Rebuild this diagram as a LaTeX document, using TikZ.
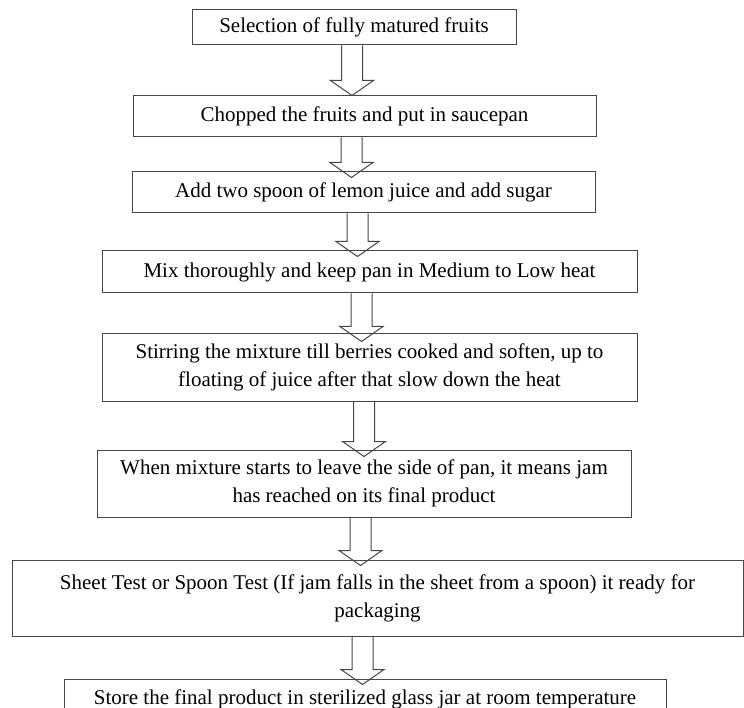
\documentclass[tikz,border=0pt]{standalone}
\usepackage{fontspec}
\setmainfont{Liberation Serif}
\usetikzlibrary{calc}

\definecolor{edgegray}{RGB}{70,70,70}

\tikzset{
  stepbox/.style={draw=edgegray, line width=1pt, fill=white, inner sep=0pt,
    align=center, font=\fontsize{21pt}{28pt}\selectfont, text=black},
  flowarrow/.style={draw=edgegray, line width=1pt, line join=miter}
}

% Hollow block arrow from the bottom of #1 into the top of #2.
% #3: x of the arrow axis (pt), #4: how far the tip reaches into #2 (pt)
\newcommand{\flowarrow}[4]{%
  \draw[flowarrow] let \p1=(#1.south), \p2=(#2.north) in
    (#3pt-10.5pt,\y1) -- (#3pt-10.5pt,\y2-#4pt+15pt) -- (#3pt-21.5pt,\y2-#4pt+15pt)
    -- (#3pt,\y2-#4pt) -- (#3pt+21.5pt,\y2-#4pt+15pt) -- (#3pt+10.5pt,\y2-#4pt+15pt)
    -- (#3pt+10.5pt,\y1);
}

\begin{document}
\begin{tikzpicture}[x=1pt, y=-1pt]
  \useasboundingbox (0,0) rectangle (744,708);
  \clip (0,0) rectangle (744,708);
  \fill[white] (0,0) rectangle (744,708);

  \node[stepbox, minimum width=324pt, minimum height=35pt] (b1) at (354,27.5)
    {Selection of fully matured fruits};
  \node[stepbox, minimum width=463pt, minimum height=41pt] (b2) at (364.5,116.5)
    {Chopped the fruits and put in saucepan};
  \node[stepbox, minimum width=463pt, minimum height=41pt] (b3) at (363.5,192.5)
    {Add two spoon of lemon juice and add sugar};
  \node[stepbox, minimum width=535pt, minimum height=42pt] (b4) at (369.5,272)
    {Mix thoroughly and keep pan in Medium to Low heat};
  \node[stepbox, minimum width=535pt, minimum height=67pt] (b5) at (369.5,367.5)
    {Stirring the mixture till berries cooked and soften, up to\\
     floating of juice after that slow down the heat};
  \node[stepbox, minimum width=534pt, minimum height=67pt] (b6) at (364,483.5)
    {When mixture starts to leave the side of pan, it means jam\\
     has reached on its final product};
  \node[stepbox, minimum width=731pt, minimum height=76pt] (b7) at (377.5,598)
    {Sheet Test or Spoon Test (If jam falls in the sheet from a spoon) it ready for\\
     packaging\rule[-3.5pt]{0pt}{0pt}};
  \node[stepbox, minimum width=602pt, minimum height=41pt] (b8) at (365,699.5)
    {Store the final product in sterilized glass jar at room temperature};

  \flowarrow{b1}{b2}{352}{0}
  \flowarrow{b2}{b3}{351.5}{6}
  \flowarrow{b3}{b4}{357.5}{6}
  \flowarrow{b4}{b5}{361.5}{8}
  \flowarrow{b5}{b6}{364}{7}
  \flowarrow{b6}{b7}{360.5}{6}
  \flowarrow{b7}{b8}{362.5}{6}
\end{tikzpicture}
\end{document}
